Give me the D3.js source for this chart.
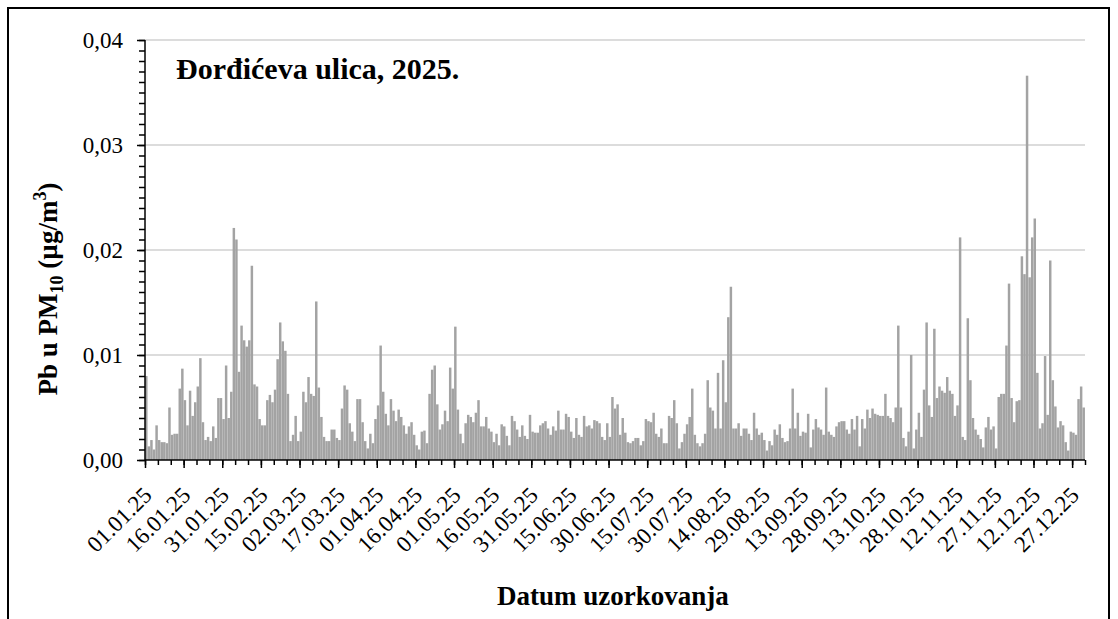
<!DOCTYPE html>
<html>
<head>
<meta charset="utf-8">
<script src="https://cdn.jsdelivr.net/npm/d3@7"></script>
<style>
  body { margin: 0; background: #fff; }
  svg { display: block; }
</style>
</head>
<body>
<svg width="1118" height="619"></svg>
<script>
// daily Pb in PM10 (µg/m3), 01.01.2025 - 31.12.2025
const pbValues = [
  .008, .0013, .0019, .001, .0033, .0019, .0017, .0017, .0016, .005,
  .0024, .0025, .0025, .0068, .0087, .0057, .0033, .0066, .0042, .0055,
  .007, .0097, .0036, .0019, .0022, .0018, .0032, .0021, .0059, .0059,
  .0039, .009, .004, .0065, .0221, .021, .0084, .0128, .0114, .0108,
  .0114, .0185, .0072, .007, .0039, .0033, .0033, .0057, .0062, .0055,
  .0067, .0096, .0131, .0113, .0104, .0063, .0018, .0024, .0042, .0018,
  .0027, .0065, .0055, .0079, .0063, .0061, .0151, .0069, .0041, .0022,
  .0018, .0018, .0029, .0029, .0021, .0019, .0049, .0071, .0067, .0035,
  .0027, .0018, .0058, .0058, .0036, .0018, .0011, .0025, .0016, .0039,
  .0052, .0109, .0065, .0044, .0033, .0058, .0047, .0037, .0048, .0041,
  .0033, .0025, .0032, .0036, .0024, .0014, .001, .0027, .0028, .0016,
  .0063, .0086, .009, .0053, .0029, .0034, .0047, .0037, .0088, .0068,
  .0127, .0048, .0025, .0016, .0035, .0043, .0041, .0036, .0045, .0057,
  .0032, .0032, .0041, .003, .0027, .0017, .0025, .0014, .0034, .0032,
  .0023, .0014, .0042, .0037, .0029, .0022, .0033, .0023, .002, .0043,
  .0027, .0026, .0026, .0033, .0035, .0037, .003, .0024, .0032, .0028,
  .0047, .0029, .0029, .0044, .0041, .0027, .0021, .004, .0024, .0022,
  .0042, .0032, .0033, .003, .0038, .0037, .0035, .0022, .0019, .0035,
  .0022, .006, .0049, .0053, .0024, .004, .0026, .0017, .0016, .0018,
  .0021, .0021, .0014, .0018, .0039, .0037, .0036, .0045, .0025, .0022,
  .003, .0016, .0016, .0042, .004, .0057, .0035, .0011, .0017, .0025,
  .0034, .0041, .0068, .0024, .0016, .0013, .0016, .0025, .0076, .005,
  .0047, .003, .0083, .003, .0095, .0055, .0136, .0165, .003, .003,
  .0035, .0023, .003, .003, .0025, .0019, .0045, .003, .0024, .0026,
  .0019, .0009, .0018, .0014, .0029, .0024, .0034, .0021, .0017, .0018,
  .003, .0068, .003, .0045, .0023, .0027, .0026, .0044, .0012, .0029,
  .0039, .0031, .0029, .0024, .0069, .0027, .0024, .0022, .0032, .0036,
  .0037, .0037, .0029, .0025, .0039, .0029, .0042, .0013, .0039, .003,
  .0048, .004, .0049, .0044, .0043, .0042, .0042, .0063, .0042, .004,
  .0036, .005, .0128, .005, .0021, .0013, .0027, .01, .0011, .0029,
  .0045, .0022, .0067, .0131, .0052, .0041, .0125, .0059, .007, .0066,
  .0064, .0079, .0066, .0063, .0042, .0052, .0212, .0022, .0019, .0135,
  .0076, .004, .0029, .0024, .002, .0012, .0031, .0041, .0029, .0032,
  .0011, .006, .0063, .0063, .0109, .0168, .0059, .0036, .0056, .0057,
  .0194, .0177, .0366, .0174, .0212, .023, .0083, .003, .0035, .0099,
  .0043, .019, .0076, .0051, .0031, .0037, .0033, .0017, .0009, .0027,
  .0026, .0024, .0058, .007, .005
];

const tickLabels = [
  "01.01.25", "16.01.25", "31.01.25", "15.02.25", "02.03.25", "17.03.25",
  "01.04.25", "16.04.25", "01.05.25", "16.05.25", "31.05.25", "15.06.25",
  "30.06.25", "15.07.25", "30.07.25", "14.08.25", "29.08.25", "13.09.25",
  "28.09.25", "13.10.25", "28.10.25", "12.11.25", "27.11.25", "12.12.25",
  "27.12.25"
];
const yTicks = [0, 0.01, 0.02, 0.03, 0.04];

const chartTitle = "Đorđićeva ulica, 2025.";
const xTitle = "Datum uzorkovanja";

const serif = "'Liberation Serif'";
const plotLeft = 145, plotRight = 1085, plotTop = 40, plotBottom = 460;

const svg = d3.select("svg");

// chart frame
svg.append("rect")
  .attr("x", 8).attr("y", 8)
  .attr("width", 1101).attr("height", 700)
  .attr("fill", "none")
  .attr("stroke", "#000")
  .attr("stroke-width", 2);

const days = d3.range(pbValues.length);

const x = d3.scaleBand()
  .domain(days)
  .range([plotLeft, plotRight])
  .paddingInner(0.04)
  .paddingOuter(0.02);

const dayScale = d3.scaleLinear()
  .domain([0, pbValues.length])
  .range([plotLeft, plotRight]);

const y = d3.scaleLinear()
  .domain([0, 0.04])
  .range([plotBottom, plotTop]);

const commaFmt = d => d3.format(".2f")(d).replace(".", ",");

// gridlines
svg.append("g")
  .selectAll("line")
  .data(yTicks.slice(1))
  .enter().append("line")
  .attr("x1", plotLeft).attr("x2", plotRight)
  .attr("y1", d => y(d)).attr("y2", d => y(d))
  .attr("stroke", "#d0d0d0")
  .attr("stroke-width", 1.5);

// bars
svg.append("g")
  .selectAll("rect")
  .data(pbValues)
  .enter().append("rect")
  .attr("x", (d, i) => x(i))
  .attr("width", x.bandwidth())
  .attr("y", d => y(d))
  .attr("height", d => y(0) - y(d))
  .attr("fill", "#a3a3a3");

// y axis: minor + major
svg.append("g")
  .attr("transform", `translate(${plotLeft},0)`)
  .call(d3.axisLeft(y)
    .tickValues(d3.range(0, 41).map(i => i / 1000))
    .tickSize(6)
    .tickFormat(""))
  .call(g => g.select(".domain").remove());

svg.append("g")
  .attr("class", "y-axis")
  .attr("transform", `translate(${plotLeft},0)`)
  .call(d3.axisLeft(y)
    .tickValues(yTicks)
    .tickSize(8)
    .tickPadding(14)
    .tickFormat(commaFmt))
  .call(g => g.select(".domain").attr("d", `M0,${plotTop}V${plotBottom}`));

// x axis: minor + major
svg.append("g")
  .attr("transform", `translate(0,${plotBottom})`)
  .call(d3.axisBottom(dayScale)
    .tickValues(d3.range(0, pbValues.length + 1, 5))
    .tickSize(5)
    .tickFormat(""))
  .call(g => g.select(".domain").remove());

const xAxis = svg.append("g")
  .attr("class", "x-axis")
  .attr("transform", `translate(0,${plotBottom})`)
  .call(d3.axisBottom(dayScale)
    .tickValues(d3.range(0, pbValues.length, 15))
    .tickSize(8)
    .tickFormat((d, i) => tickLabels[i]))
  .call(g => g.select(".domain").attr("d", `M${plotLeft},0H${plotRight}`));

xAxis.selectAll("text")
  .attr("text-anchor", "end")
  .attr("dy", "0.35em")
  .attr("y", 0)
  .attr("transform", "translate(2,31) rotate(-45)");

svg.selectAll(".y-axis, .x-axis").attr("font-family", null).attr("font-size", null);
svg.selectAll(".y-axis text, .x-axis text")
  .style("font-family", serif)
  .style("font-size", "23px")
  .attr("fill", "#000");

svg.selectAll(".tick line, .domain")
  .attr("stroke", "#000")
  .attr("stroke-width", 1.5);

// title inside the plot
svg.append("text")
  .attr("x", 176)
  .attr("y", 79)
  .style("font-family", serif)
  .style("font-size", "30px")
  .style("font-weight", "bold")
  .text(chartTitle);

// y axis title with sub/superscript
const yTitle = svg.append("text")
  .attr("transform", "translate(57,289) rotate(-90)")
  .attr("text-anchor", "middle")
  .style("font-family", serif)
  .style("font-size", "27px")
  .style("font-weight", "bold");
yTitle.append("tspan").text("Pb u PM");
yTitle.append("tspan").style("font-size", "18px").attr("dy", 6).text("10");
yTitle.append("tspan").attr("dy", -6).text(" (µg/m");
yTitle.append("tspan").style("font-size", "18px").attr("dy", -11).text("3");
yTitle.append("tspan").attr("dy", 11).text(")");

// x axis title
svg.append("text")
  .attr("x", (plotLeft + plotRight) / 2 - 2)
  .attr("y", 605)
  .attr("text-anchor", "middle")
  .style("font-family", serif)
  .style("font-size", "27px")
  .style("font-weight", "bold")
  .text(xTitle);
</script>
</body>
</html>
